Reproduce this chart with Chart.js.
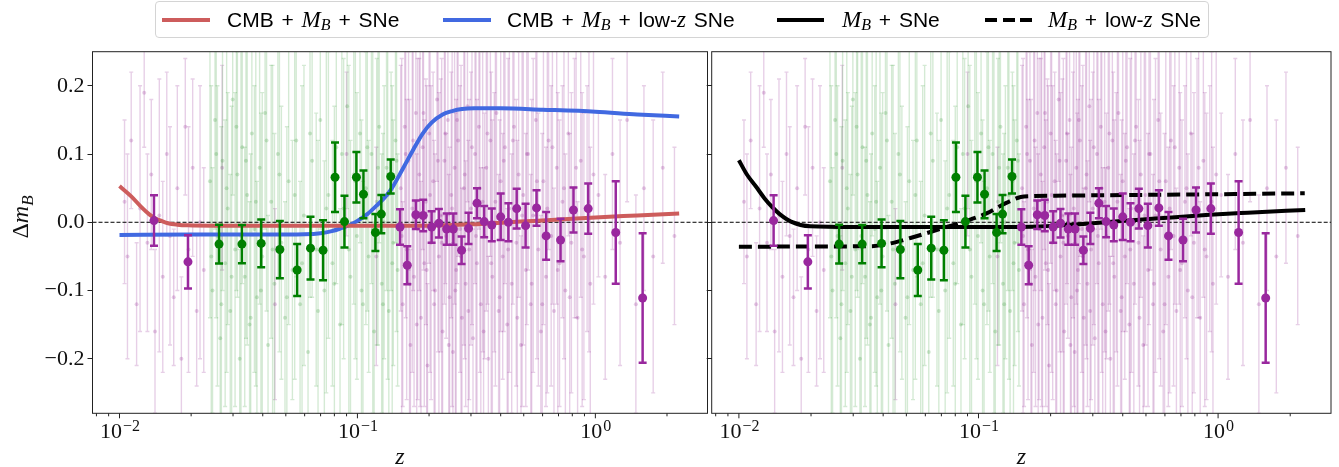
<!DOCTYPE html>
<html>
<head>
<meta charset="utf-8">
<script src="https://cdn.jsdelivr.net/npm/chart.js@4.4.0/dist/chart.umd.min.js"></script>
<style>
  html, body { margin: 0; padding: 0; background: #fff; }
  #wrap { position: relative; width: 1339px; height: 467px; overflow: hidden; }
  #leftCanvas { position: absolute; left: 0; top: 0; }
  #rightCanvas { position: absolute; left: 700px; top: 0; }
  .legend { position: absolute; left: 155px; top: 1px; width: 1052px; height: 35px;
            border: 1px solid #d4d4d4; border-radius: 4px; background: rgba(255,255,255,0.85); z-index: 5; }
  .swatch { position: absolute; top: 16px; height: 4px; }
  .label { position: absolute; top: 5px; font: 21px "Liberation Sans", sans-serif; word-spacing: 2px;
           color: #000; white-space: nowrap; }
  .m { font-family: "Liberation Serif", serif; font-style: italic; font-size: 23px; }
  .m sub { font-size: 16px; vertical-align: -3px; line-height: 0; }
</style>
</head>
<body>
<div id="wrap">
  <canvas id="leftCanvas" width="712" height="467"></canvas>
  <canvas id="rightCanvas" width="639" height="467"></canvas>
  <div class="legend">
    <div class="swatch" style="left:6px;width:48px;background:#cd5c5c"></div>
    <div class="label" style="left:71px">CMB + <span class="m">M<sub>B</sub></span> + SNe</div>
    <div class="swatch" style="left:287px;width:48px;background:#4169e1"></div>
    <div class="label" style="left:351px">CMB + <span class="m">M<sub>B</sub></span> + low-<span class="m">z</span> SNe</div>
    <div class="swatch" style="left:621px;width:47px;background:#000"></div>
    <div class="label" style="left:686px"><span class="m">M<sub>B</sub></span> + SNe</div>
    <div class="swatch" style="left:829px;width:47px;background:repeating-linear-gradient(90deg,#000 0 12px,transparent 12px 17.5px)"></div>
    <div class="label" style="left:892px"><span class="m">M<sub>B</sub></span> + low-<span class="m">z</span> SNe</div>
  </div>
</div>
<script>
// axis limits and ticks
const xMin = 0.0077;
const xMax = 2.96;
const yMin = -0.28;
const yMax = 0.25;
const yTickValues = [-0.2, -0.1, 0.0, 0.1, 0.2];
const xMajorTicks = [0.01, 0.1, 1];
const xMajorLabels = ["\u22122", "\u22121", "0"];
const xMinorTicks = [0.008, 0.009, 0.02, 0.03, 0.04, 0.05, 0.06, 0.07, 0.08, 0.09,
                     0.2, 0.3, 0.4, 0.5, 0.6, 0.7, 0.8, 0.9, 2];

// model curves (z, delta m_B)
const redZ = [0.01, 0.0112, 0.0123, 0.0133, 0.0141, 0.015, 0.016, 0.0175, 0.0194, 0.025, 0.05, 0.1, 0.2, 0.3, 0.485, 0.71, 1.0, 1.5, 2.25];
const redY = [0.053, 0.038, 0.023, 0.012, 0.006, 0.002, -0.0015, -0.0035, -0.0045, -0.005, -0.005, -0.005, -0.005, -0.003, 0.001, 0.004, 0.007, 0.010, 0.013];

const blueZ = [0.01, 0.02, 0.04, 0.06, 0.07, 0.078, 0.085, 0.093, 0.1, 0.11, 0.12, 0.13, 0.139, 0.156, 0.172, 0.188, 0.205, 0.228, 0.25, 0.275, 0.31, 0.4, 0.6, 1.0, 1.5, 2.25];
const blueY = [-0.0185, -0.018, -0.018, -0.0175, -0.016, -0.013, -0.009, -0.004, 0.002, 0.012, 0.024, 0.036, 0.049, 0.080, 0.107, 0.130, 0.146, 0.158, 0.163, 0.166, 0.167, 0.167, 0.165, 0.162, 0.158, 0.155];

const blackZ = [0.01, 0.0108, 0.0118, 0.0128, 0.0138, 0.0148, 0.0165, 0.0198, 0.03, 0.06, 0.1, 0.145, 0.21, 0.3, 0.44, 0.64, 0.92, 1.33, 2.31];
const blackY = [0.091, 0.070, 0.052, 0.035, 0.022, 0.012, 0.001, -0.006, -0.007, -0.007, -0.007, -0.007, -0.005, -0.0015, 0.003, 0.007, 0.011, 0.014, 0.018];

const dashZ = [0.01, 0.02, 0.036, 0.043, 0.052, 0.062, 0.075, 0.09, 0.108, 0.13, 0.15, 0.17, 0.21, 0.3, 0.95, 2.3];
const dashY = [-0.036, -0.0355, -0.035, -0.031, -0.023, -0.015, -0.006, 0.0025, 0.013, 0.028, 0.037, 0.0385, 0.039, 0.0395, 0.041, 0.0425];

// binned points [z, value, error]
const greenBins = [
  [0.0262, -0.032, 0.0285], [0.0327, -0.032, 0.028], [0.0394, -0.031, 0.035], [0.0472, -0.040, 0.042],
  [0.0558, -0.070, 0.038], [0.0635, -0.038, 0.046], [0.0717, -0.041, 0.044], [0.0805, 0.066, 0.051],
  [0.0882, 0.001, 0.038], [0.099, 0.066, 0.037], [0.106, 0.041, 0.035], [0.119, -0.015, 0.027],
  [0.126, 0.012, 0.028], [0.138, 0.067, 0.025]
];
const purpleBins = [
  [0.01396, 0.0025, 0.037], [0.0194, -0.058, 0.039], [0.151, -0.007, 0.026], [0.162, -0.063, 0.028],
  [0.176, 0.011, 0.021], [0.189, 0.010, 0.023], [0.205, -0.007, 0.023], [0.22, -0.0015, 0.021],
  [0.237, -0.010, 0.023], [0.253, -0.010, 0.023], [0.274, -0.041, 0.020], [0.293, -0.009, 0.023],
  [0.318, 0.028, 0.022], [0.341, 0.001, 0.023], [0.367, -0.004, 0.024], [0.40, 0.008, 0.034],
  [0.431, 0.000, 0.028], [0.467, 0.020, 0.029], [0.509, -0.005, 0.032], [0.566, 0.021, 0.026],
  [0.621, -0.020, 0.035], [0.714, -0.026, 0.031], [0.809, 0.018, 0.033], [0.933, 0.020, 0.037],
  [1.218, -0.015, 0.075], [1.58, -0.111, 0.095]
];

// individual supernovae (faint) [z, value, error]
const greenFaint = [
  [0.0240, 0.06, 0.20], [0.0246, -0.10, 0.18], [0.0252, 0.15, 0.16], [0.0258, -0.02, 0.22], [0.0265, -0.17, 0.15],
  [0.0271, 0.09, 0.19], [0.0278, -0.06, 0.21], [0.0285, 0.02, 0.17], [0.0292, -0.13, 0.20], [0.0299, 0.18, 0.14],
  [0.0306, -0.04, 0.23], [0.0313, 0.07, 0.18], [0.0320, -0.20, 0.16], [0.0328, 0.11, 0.20], [0.0336, -0.08, 0.19],
  [0.0344, 0.04, 0.22], [0.0352, -0.15, 0.18], [0.0360, 0.13, 0.15], [0.0369, -0.01, 0.21], [0.0378, -0.11, 0.17],
  [0.0388, 0.08, 0.20], [0.0398, -0.05, 0.24], [0.0409, 0.16, 0.17], [0.0421, -0.18, 0.19], [0.0434, 0.03, 0.20],
  [0.0448, -0.09, 0.22], [0.0463, 0.10, 0.18], [0.0479, -0.03, 0.20], [0.0496, -0.14, 0.17], [0.0514, 0.06, 0.21],
  [0.0533, -0.07, 0.19], [0.0553, 0.12, 0.20], [0.0574, -0.12, 0.18], [0.0596, 0.01, 0.22], [0.0620, -0.19, 0.15],
  [0.0645, 0.09, 0.20], [0.0671, -0.04, 0.20], [0.0698, 0.15, 0.16], [0.0726, -0.10, 0.19], [0.0755, 0.04, 0.21],
  [0.0785, -0.06, 0.18], [0.0815, 0.11, 0.20], [0.0845, -0.15, 0.17], [0.0875, 0.02, 0.22], [0.0905, 0.17, 0.15],
  [0.0935, -0.08, 0.20], [0.0965, 0.07, 0.19], [0.0995, -0.02, 0.21], [0.1025, 0.13, 0.16], [0.1055, -0.12, 0.18],
  [0.1085, 0.05, 0.20], [0.1115, -0.05, 0.17], [0.1145, 0.10, 0.19], [0.1175, -0.16, 0.16], [0.1205, 0.03, 0.21],
  [0.1235, 0.14, 0.17], [0.1265, -0.09, 0.19], [0.1295, 0.00, 0.20], [0.1325, 0.08, 0.18], [0.1355, -0.13, 0.17],
  [0.1385, 0.06, 0.16], [0.1415, -0.03, 0.18], [0.1445, 0.12, 0.15], [0.1475, -0.07, 0.17],
  [0.0243, -0.05, 0.25], [0.0255, 0.10, 0.24], [0.0268, -0.12, 0.26], [0.0282, 0.05, 0.27], [0.0296, -0.08, 0.25],
  [0.0310, 0.14, 0.24], [0.0324, -0.02, 0.28], [0.0340, 0.09, 0.26], [0.0356, -0.14, 0.24], [0.0374, 0.03, 0.27],
  [0.0393, -0.10, 0.26], [0.0415, 0.12, 0.25], [0.0440, -0.04, 0.27], [0.0470, 0.07, 0.26], [0.0505, -0.11, 0.25],
  [0.0545, 0.04, 0.27], [0.0585, -0.06, 0.26], [0.0632, 0.13, 0.24], [0.0683, -0.13, 0.25], [0.0740, 0.02, 0.27],
  [0.0800, -0.09, 0.26], [0.0860, 0.10, 0.25], [0.0920, -0.04, 0.27], [0.0980, 0.06, 0.26], [0.1040, -0.10, 0.25],
  [0.1100, 0.11, 0.24], [0.1160, -0.01, 0.27], [0.1220, 0.08, 0.26], [0.1280, -0.12, 0.25], [0.1340, 0.04, 0.27],
  [0.1400, -0.06, 0.26], [0.1460, 0.09, 0.25]
];
const purpleFaint = [
  [0.0105, 0.03, 0.12], [0.0108, -0.05, 0.15], [0.0112, 0.12, 0.10], [0.0118, -0.12, 0.09], [0.0122, 0.02, 0.18],
  [0.0127, 0.19, 0.08], [0.0131, -0.03, 0.13], [0.0136, 0.07, 0.11], [0.0141, -0.16, 0.12], [0.0147, 0.01, 0.20],
  [0.0152, -0.08, 0.14], [0.0158, 0.10, 0.12], [0.0163, -0.02, 0.16], [0.0169, -0.11, 0.10], [0.0175, 0.05, 0.15],
  [0.0182, -0.20, 0.12], [0.0189, 0.14, 0.10], [0.0195, -0.04, 0.18], [0.0203, 0.08, 0.13], [0.0211, -0.13, 0.11],
  [0.0218, 0.00, 0.20], [0.0226, -0.07, 0.15], [0.027, 0.08, 0.15], [0.045, -0.12, 0.14], [0.09, 0.10, 0.12],
  [0.12, -0.05, 0.16],
  [0.152, 0.05, 0.18], [0.155, -0.12, 0.15], [0.158, 0.14, 0.20], [0.161, -0.04, 0.22], [0.164, 0.09, 0.16],
  [0.167, -0.18, 0.14], [0.170, 0.02, 0.24], [0.173, -0.08, 0.19], [0.176, 0.16, 0.13], [0.179, -0.01, 0.25],
  [0.182, 0.07, 0.17], [0.185, -0.14, 0.20], [0.188, 0.11, 0.15], [0.191, -0.06, 0.21], [0.194, 0.03, 0.18],
  [0.197, -0.21, 0.12], [0.200, 0.13, 0.19], [0.204, -0.03, 0.23], [0.208, 0.06, 0.16], [0.212, -0.10, 0.20],
  [0.216, 0.18, 0.12], [0.220, -0.05, 0.24], [0.224, 0.01, 0.20], [0.228, -0.16, 0.17], [0.232, 0.09, 0.21],
  [0.236, -0.02, 0.15], [0.240, 0.15, 0.14], [0.244, -0.11, 0.22], [0.248, 0.04, 0.18], [0.252, -0.19, 0.16],
  [0.256, 0.08, 0.20], [0.260, -0.07, 0.25], [0.265, 0.12, 0.17], [0.270, -0.01, 0.21], [0.275, -0.14, 0.19],
  [0.280, 0.05, 0.23], [0.285, -0.09, 0.18], [0.290, 0.17, 0.14], [0.295, -0.04, 0.22], [0.300, 0.02, 0.20],
  [0.306, -0.17, 0.16], [0.312, 0.10, 0.19], [0.318, -0.06, 0.24], [0.324, 0.14, 0.15], [0.330, -0.12, 0.20],
  [0.336, 0.03, 0.22], [0.342, -0.02, 0.18], [0.348, 0.08, 0.21], [0.355, -0.20, 0.15], [0.362, 0.12, 0.17],
  [0.369, -0.08, 0.23], [0.376, 0.00, 0.19], [0.384, 0.16, 0.16], [0.392, -0.13, 0.20], [0.400, 0.06, 0.22],
  [0.408, -0.05, 0.18], [0.417, 0.11, 0.20], [0.426, -0.15, 0.17], [0.435, 0.02, 0.24], [0.445, -0.09, 0.19],
  [0.455, 0.14, 0.15], [0.465, -0.03, 0.21], [0.476, 0.07, 0.18], [0.487, -0.18, 0.16], [0.498, 0.04, 0.22],
  [0.510, -0.07, 0.20], [0.522, 0.10, 0.17], [0.535, -0.12, 0.19], [0.548, 0.01, 0.23], [0.562, 0.15, 0.14],
  [0.576, -0.04, 0.20], [0.590, -0.16, 0.17], [0.605, 0.06, 0.21], [0.620, -0.08, 0.19], [0.636, 0.12, 0.16],
  [0.652, -0.02, 0.22], [0.670, -0.13, 0.18], [0.688, 0.08, 0.20], [0.707, -0.06, 0.21], [0.727, 0.03, 0.17],
  [0.748, -0.10, 0.20], [0.770, 0.13, 0.15], [0.793, -0.03, 0.22], [0.817, 0.05, 0.19], [0.842, -0.14, 0.17],
  [0.868, 0.09, 0.20], [0.895, -0.05, 0.21], [0.923, 0.02, 0.18], [0.952, -0.09, 0.20], [0.982, 0.07, 0.19],
  [0.1535, -0.02, 0.26], [0.1595, 0.10, 0.24], [0.1655, -0.09, 0.27], [0.1715, 0.12, 0.22], [0.1775, -0.15, 0.25],
  [0.1835, 0.01, 0.28], [0.1895, 0.16, 0.23], [0.1955, -0.07, 0.27], [0.2020, 0.04, 0.26], [0.2100, -0.12, 0.24],
  [0.2180, 0.09, 0.28], [0.2260, -0.03, 0.27], [0.2340, 0.13, 0.22], [0.2420, -0.18, 0.25], [0.2500, 0.02, 0.29],
  [0.2580, -0.10, 0.26], [0.2625, 0.15, 0.24], [0.2725, -0.05, 0.28], [0.2825, 0.07, 0.27], [0.2925, -0.13, 0.25],
  [0.3030, 0.11, 0.26], [0.3150, -0.02, 0.29], [0.3270, 0.05, 0.27], [0.3390, -0.16, 0.24], [0.3520, 0.13, 0.25],
  [0.3650, -0.06, 0.28], [0.3800, 0.03, 0.27], [0.3960, -0.11, 0.26], [0.4120, 0.09, 0.25], [0.4300, -0.04, 0.28],
  [0.4500, 0.12, 0.24], [0.4700, -0.14, 0.26], [0.4920, 0.01, 0.28], [0.5150, 0.10, 0.25], [0.5400, -0.09, 0.27],
  [0.5680, 0.06, 0.26], [0.5980, -0.12, 0.25], [0.6280, 0.02, 0.27], [0.6600, 0.11, 0.23], [0.6950, -0.07, 0.26],
  [0.7380, 0.05, 0.25], [0.7800, -0.11, 0.24], [0.8300, 0.08, 0.22], [0.8800, -0.04, 0.23], [0.9400, 0.03, 0.22],
  [1.03, 0.04, 0.12], [1.10, -0.08, 0.15], [1.18, 0.10, 0.14], [1.27, -0.03, 0.18], [1.36, 0.15, 0.12],
  [1.48, -0.12, 0.16], [1.60, 0.05, 0.15], [1.75, -0.05, 0.20], [1.92, 0.08, 0.14], [2.15, -0.02, 0.13]
];

const GREEN = "#008000";
const PURPLE = "rgb(153,40,158)";
const SERIF = '"Liberation Serif", serif';

const toXY = (zs, ys) => zs.map((z, i) => ({ x: z, y: ys[i] }));

function pointSet(rows, color, radius, errColor, errWidth, capHalf, order) {
  return {
    type: "scatter",
    data: rows.map(r => ({ x: r[0], y: r[1] })),
    errors: rows.map(r => r[2]),
    errColor: errColor, errWidth: errWidth, capHalf: capHalf,
    backgroundColor: color, borderWidth: 0, pointRadius: radius,
    showLine: false, order: order
  };
}

function curveSet(zs, ys, color, dash) {
  return {
    type: "line",
    data: toXY(zs, ys),
    borderColor: color, borderWidth: 4, borderDash: dash || [],
    pointRadius: 0, cubicInterpolationMode: "monotone", fill: false, order: 1
  };
}

// error bars drawn just before their dataset so the layering stays right
const errorBarPlugin = {
  id: "errorBars",
  beforeDatasetDraw(chart, args) {
    const ds = chart.data.datasets[args.index];
    if (!ds.errors) return;
    const { ctx, chartArea: a, scales: { x, y } } = chart;
    ctx.save();
    ctx.beginPath();
    ctx.rect(a.left, a.top, a.right - a.left, a.bottom - a.top);
    ctx.clip();
    ctx.strokeStyle = ds.errColor;
    ctx.lineWidth = ds.errWidth;
    ds.data.forEach((p, i) => {
      const px = x.getPixelForValue(p.x);
      const top = y.getPixelForValue(p.y + ds.errors[i]);
      const bot = y.getPixelForValue(p.y - ds.errors[i]);
      ctx.beginPath();
      ctx.moveTo(px, top); ctx.lineTo(px, bot);
      ctx.moveTo(px - ds.capHalf, top); ctx.lineTo(px + ds.capHalf, top);
      ctx.moveTo(px - ds.capHalf, bot); ctx.lineTo(px + ds.capHalf, bot);
      ctx.stroke();
    });
    ctx.restore();
  }
};

// frame, log ticks with superscript labels, axis titles
const framePlugin = {
  id: "frame",
  afterDraw(chart) {
    const { ctx, chartArea: a, scales: { x } } = chart;
    const side = chart.options.plugins.frame.side;
    ctx.save();
    ctx.strokeStyle = "#222";
    ctx.lineWidth = 1;
    ctx.strokeRect(a.left, a.top, a.right - a.left, a.bottom - a.top);

    ctx.beginPath();
    xMinorTicks.forEach(v => {
      const px = x.getPixelForValue(v);
      ctx.moveTo(px, a.bottom); ctx.lineTo(px, a.bottom + 3);
    });
    xMajorTicks.forEach(v => {
      const px = x.getPixelForValue(v);
      ctx.moveTo(px, a.bottom); ctx.lineTo(px, a.bottom + 5);
    });
    ctx.stroke();

    ctx.fillStyle = "#111";
    ctx.textBaseline = "alphabetic";
    xMajorTicks.forEach((v, i) => {
      const px = x.getPixelForValue(v);
      ctx.font = "22px " + SERIF;
      const w1 = ctx.measureText("10").width;
      ctx.font = "16px " + SERIF;
      const w2 = ctx.measureText(xMajorLabels[i]).width;
      const start = px - (w1 + w2) / 2;
      ctx.font = "22px " + SERIF;
      ctx.fillText("10", start, 438);
      ctx.font = "16px " + SERIF;
      ctx.fillText(xMajorLabels[i], start + w1 + 1, 431);
    });

    // x title
    ctx.font = "italic 24px " + SERIF;
    ctx.textAlign = "center";
    ctx.fillText("z", (a.left + a.right) / 2, 464);

    if (side === "left") {
      ctx.translate(28, 217);
      ctx.rotate(-Math.PI / 2);
      ctx.textAlign = "left";
      ctx.font = "24px " + SERIF;
      const wd = ctx.measureText("\u0394").width;
      ctx.font = "italic 24px " + SERIF;
      const wm = ctx.measureText("m").width;
      ctx.font = "italic 17px " + SERIF;
      const wb = ctx.measureText("B").width;
      let cx = -(wd + wm + wb) / 2;
      ctx.font = "24px " + SERIF;
      ctx.fillText("\u0394", cx, 0);
      cx += wd;
      ctx.font = "italic 24px " + SERIF;
      ctx.fillText("m", cx, 0);
      cx += wm;
      ctx.font = "italic 17px " + SERIF;
      ctx.fillText("B", cx, 5);
    }
    ctx.restore();
  }
};

function makeChart(canvasId, side, curves) {
  const datasets = [
    pointSet(greenBins, GREEN, 4.5, GREEN, 2.5, 4, 0),
    pointSet(purpleBins, PURPLE, 4.5, PURPLE, 2.5, 4, 0),
    ...curves,
    {
      type: "line",
      data: [{ x: xMin, y: 0 }, { x: xMax, y: 0 }],
      borderColor: "#000", borderWidth: 1, borderDash: [4, 2],
      pointRadius: 0, order: 2
    },
    pointSet(greenFaint, "rgba(0,128,0,0.18)", 2, "rgba(0,128,0,0.17)", 1.4, 2, 3),
    pointSet(purpleFaint, "rgba(128,0,128,0.2)", 2, "rgba(128,0,128,0.19)", 1.4, 2, 3)
  ];

  return new Chart(document.getElementById(canvasId), {
    type: "scatter",
    data: { datasets },
    plugins: [errorBarPlugin, framePlugin],
    options: {
      responsive: false,
      animation: false,
      devicePixelRatio: 1,
      layout: { padding: { top: 51.7, left: 0, bottom: 0, right: side === "left" ? 0.3 : 8 } },
      plugins: {
        legend: { display: false },
        tooltip: { enabled: false },
        frame: { side: side }
      },
      scales: {
        x: {
          type: "logarithmic",
          min: xMin,
          max: xMax,
          afterBuildTicks: s => { s.ticks = xMajorTicks.concat(xMinorTicks).map(v => ({ value: v })); },
          afterFit: s => { s.height = 53.7; },
          grid: { display: false },
          border: { display: false },
          ticks: { display: false }
        },
        y: {
          type: "linear",
          min: yMin,
          max: yMax,
          afterBuildTicks: s => { s.ticks = yTickValues.map(v => ({ value: v })); },
          afterFit: s => { s.width = side === "left" ? 92.5 : 11.7; },
          grid: { drawOnChartArea: false, drawTicks: true, tickLength: 5, color: "#222" },
          border: { display: false },
          ticks: {
            color: side === "left" ? "#111" : "rgba(0,0,0,0)",
            font: { family: SERIF, size: 22 },
            padding: 3,
            callback: v => (v < -1e-9 ? "\u2212" : "") + Math.abs(v).toFixed(1)
          }
        }
      }
    }
  });
}

makeChart("leftCanvas", "left", [
  curveSet(redZ, redY, "#cd5c5c"),
  curveSet(blueZ, blueY, "#4169e1")
]);
makeChart("rightCanvas", "right", [
  curveSet(blackZ, blackY, "#000"),
  curveSet(dashZ, dashY, "#000", [13, 6])
]);
</script>
</body>
</html>
